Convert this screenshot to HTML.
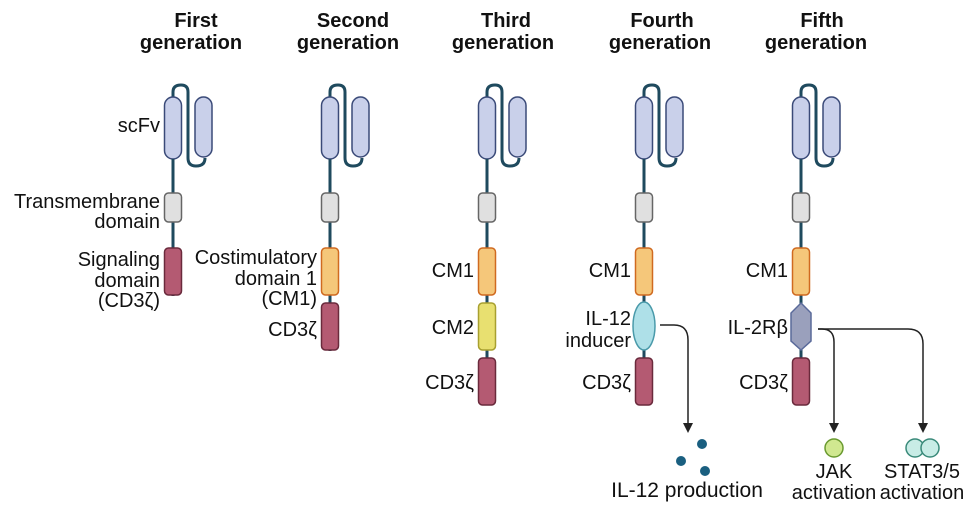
<!DOCTYPE html>
<html><head><style>body{margin:0;background:#fff}svg{display:block}</style></head><body>
<svg width="974" height="505" viewBox="0 0 974 505" xmlns="http://www.w3.org/2000/svg" font-family="Liberation Sans, sans-serif">
<defs>
<g id="scfv">
<path d="M0,100 V92 Q0,85 8,85 Q15,85 15,92 V158 Q15,166 23,166 Q32,166 32,158" fill="none" stroke="#1f4a5e" stroke-width="3"/>
<rect x="-8.5" y="97" width="17" height="62" rx="8.5" fill="#c9d0ea" stroke="#3a4a78" stroke-width="1.5"/>
<rect x="22" y="97" width="17" height="60" rx="8.5" fill="#c9d0ea" stroke="#3a4a78" stroke-width="1.5"/>
<line x1="0" y1="159" x2="0" y2="400" stroke="#1f4a5e" stroke-width="3"/>
<rect x="-8.5" y="193" width="17" height="29" rx="4" fill="#e0e0e0" stroke="#666" stroke-width="1.5"/>
</g>
</defs>
<g font-weight="bold" font-size="20" text-anchor="middle" fill="#111">
<text x="196" y="27">First</text><text x="191" y="49">generation</text>
<text x="353" y="27">Second</text><text x="348" y="49">generation</text>
<text x="506" y="27">Third</text><text x="503" y="49">generation</text>
<text x="662" y="27">Fourth</text><text x="660" y="49">generation</text>
<text x="822" y="27">Fifth</text><text x="816" y="49">generation</text>
</g>
<g>
<use href="#scfv" x="173"/>
<use href="#scfv" x="330"/>
<use href="#scfv" x="487"/>
<use href="#scfv" x="644"/>
<use href="#scfv" x="801"/>
</g>
<rect x="160" y="296" width="30" height="110" fill="#fff"/>
<rect x="317" y="351" width="30" height="55" fill="#fff"/>
<rect x="164.5" y="248" width="17" height="47" rx="4" fill="#b45a72" stroke="#6a2a3c" stroke-width="1.5"/>
<rect x="321.5" y="248" width="17" height="47" rx="4" fill="#f5c77a" stroke="#d06a20" stroke-width="1.5"/>
<rect x="321.5" y="303" width="17" height="47" rx="4" fill="#b45a72" stroke="#6a2a3c" stroke-width="1.5"/>
<rect x="478.5" y="248" width="17" height="47" rx="4" fill="#f5c77a" stroke="#d06a20" stroke-width="1.5"/>
<rect x="478.5" y="303" width="17" height="47" rx="4" fill="#e8e070" stroke="#a8a030" stroke-width="1.5"/>
<rect x="478.5" y="358" width="17" height="47" rx="4" fill="#b45a72" stroke="#6a2a3c" stroke-width="1.5"/>
<rect x="635.5" y="248" width="17" height="47" rx="4" fill="#f5c77a" stroke="#d06a20" stroke-width="1.5"/>
<ellipse cx="644" cy="326" rx="11" ry="24" fill="#aee0e8" stroke="#4a9aaa" stroke-width="1.5"/>
<rect x="635.5" y="358" width="17" height="47" rx="4" fill="#b45a72" stroke="#6a2a3c" stroke-width="1.5"/>
<rect x="792.5" y="248" width="17" height="47" rx="4" fill="#f5c77a" stroke="#d06a20" stroke-width="1.5"/>
<polygon points="801,303 811,313 811,341 801,350 791,341 791,313" fill="#9aa0bc" stroke="#5a6a9a" stroke-width="1.5"/>
<rect x="792.5" y="358" width="17" height="47" rx="4" fill="#b45a72" stroke="#6a2a3c" stroke-width="1.5"/>
<g fill="none" stroke="#222" stroke-width="1.5">
<path d="M660,325 H674 Q688,325 688,340 V425"/>
<path d="M818,329 H822 Q834,329 834,342 V425"/>
<path d="M818,329 H908 Q923,329 923,344 V425"/>
</g>
<g fill="#222">
<polygon points="683,423 693,423 688,433"/>
<polygon points="829,423 839,423 834,433"/>
<polygon points="918,423 928,423 923,433"/>
</g>
<g fill="#1a5f80"><circle cx="702" cy="444" r="5"/><circle cx="681" cy="461" r="5"/><circle cx="705" cy="471" r="5"/></g>
<circle cx="834" cy="448" r="9" fill="#d0e890" stroke="#6a9a30" stroke-width="1.5"/>
<circle cx="915" cy="448" r="9" fill="#c8ece6" stroke="#3a8a7a" stroke-width="1.5"/>
<circle cx="930" cy="448" r="9" fill="#c8ece6" stroke="#3a8a7a" stroke-width="1.5"/>
<g font-size="20" fill="#111">
<text x="160" y="132" text-anchor="end">scFv</text>
<text x="160" y="208" text-anchor="end">Transmembrane</text>
<text x="160" y="228" text-anchor="end">domain</text>
<text x="160" y="266" text-anchor="end">Signaling</text>
<text x="160" y="287" text-anchor="end">domain</text>
<text x="160" y="307" text-anchor="end">(CD3ζ)</text>
<text x="317" y="264" text-anchor="end">Costimulatory</text>
<text x="317" y="285" text-anchor="end">domain 1</text>
<text x="317" y="305" text-anchor="end">(CM1)</text>
<text x="317" y="336" text-anchor="end">CD3ζ</text>
<text x="474" y="277" text-anchor="end">CM1</text>
<text x="474" y="334" text-anchor="end">CM2</text>
<text x="474" y="389" text-anchor="end">CD3ζ</text>
<text x="631" y="277" text-anchor="end">CM1</text>
<text x="631" y="325" text-anchor="end">IL-12</text>
<text x="631" y="347" text-anchor="end">inducer</text>
<text x="631" y="389" text-anchor="end">CD3ζ</text>
<text x="788" y="277" text-anchor="end">CM1</text>
<text x="788" y="334" text-anchor="end">IL-2Rβ</text>
<text x="788" y="389" text-anchor="end">CD3ζ</text>
<text x="687" y="497" text-anchor="middle" font-size="21">IL-12 production</text>
<text x="834" y="478" text-anchor="middle">JAK</text>
<text x="834" y="499" text-anchor="middle">activation</text>
<text x="922" y="478" text-anchor="middle">STAT3/5</text>
<text x="922" y="499" text-anchor="middle">activation</text>
</g>
</svg>
</body></html>
